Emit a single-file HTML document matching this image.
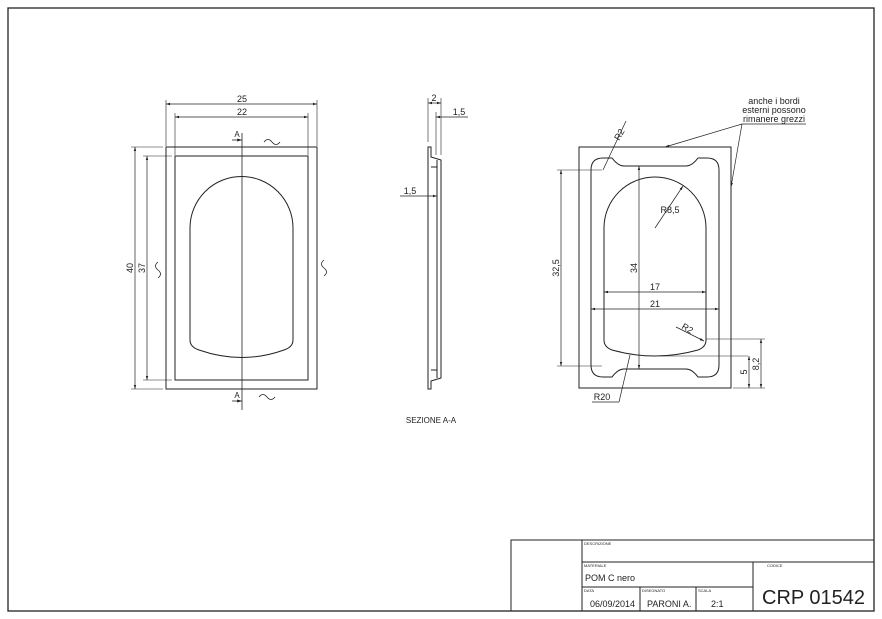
<!DOCTYPE html>
<html><head><meta charset="utf-8"><style>
body{margin:0;background:#fff}
svg{display:block}
text{font-family:"Liberation Sans",sans-serif;fill:#222}
</style></head><body>
<svg width="882" height="619" viewBox="0 0 882 619" xmlns="http://www.w3.org/2000/svg">
<defs>
<marker id="a" viewBox="0 0 10 10" refX="10" refY="5" markerWidth="6" markerHeight="6" orient="auto-start-reverse"><path d="M0,2L10,5L0,8z" fill="#222"/></marker>
</defs>
<g fill="none" stroke="#222" stroke-width="1">
<rect x="8" y="8" width="866" height="603" stroke-width="1.3"/>
<!-- left view -->
<rect x="166" y="147" width="151" height="242"/>
<rect x="175" y="156" width="133" height="224"/>
<path d="M190,340 L190,228 A51,51 0 0 1 293,228 L293,340 Q293,347 284,350 Q242,365 199,350 Q190,347 190,340 Z"/>
<line x1="242" y1="133" x2="242" y2="410" stroke-width="0.8"/>
<line x1="166" y1="100" x2="166" y2="146" stroke-width="0.6"/>
<line x1="317" y1="100" x2="317" y2="146" stroke-width="0.6"/>
<line x1="166" y1="104" x2="317" y2="104" marker-start="url(#a)" marker-end="url(#a)" stroke-width="0.7"/>
<line x1="175" y1="113" x2="175" y2="155" stroke-width="0.6"/>
<line x1="308" y1="113" x2="308" y2="155" stroke-width="0.6"/>
<line x1="175" y1="117" x2="308" y2="117" marker-start="url(#a)" marker-end="url(#a)" stroke-width="0.7"/>
<line x1="131" y1="147" x2="163" y2="147" stroke-width="0.6"/>
<line x1="131" y1="389" x2="163" y2="389" stroke-width="0.6"/>
<line x1="135" y1="147" x2="135" y2="389" marker-start="url(#a)" marker-end="url(#a)" stroke-width="0.7"/>
<line x1="143" y1="156" x2="172" y2="156" stroke-width="0.6"/>
<line x1="143" y1="380" x2="172" y2="380" stroke-width="0.6"/>
<line x1="147" y1="156" x2="147" y2="380" marker-start="url(#a)" marker-end="url(#a)" stroke-width="0.7"/>
<line x1="232" y1="140" x2="242" y2="140" marker-end="url(#a)" stroke-width="0.8"/>
<line x1="232" y1="401" x2="242" y2="401" marker-end="url(#a)" stroke-width="0.8"/>
<path d="M264,142 q4,-5 8,0 q4,5 8,0" stroke-width="0.8"/>
<path d="M259,397 q4,-5 8,0 q4,5 8,0" stroke-width="0.8"/>
<path d="M158,262 q-5,4 0,8 q5,4 0,8" stroke-width="0.8"/>
<path d="M324,260 q-5,4 0,8 q5,4 0,8" stroke-width="0.8"/>
<!-- section -->
<path d="M428,147 L431,147 L431,157 L441,160 L441,378 L431,381 L431,389 L428,389 Z"/>
<line x1="431" y1="167" x2="437" y2="167"/>
<line x1="431" y1="370" x2="437" y2="370"/>
<line x1="437" y1="160" x2="437" y2="378"/>
<line x1="428" y1="98" x2="428" y2="142" stroke-width="0.6"/>
<line x1="441" y1="98" x2="441" y2="155" stroke-width="0.6"/>
<line x1="428" y1="103" x2="441" y2="103" marker-start="url(#a)" marker-end="url(#a)" stroke-width="0.7"/>
<line x1="436" y1="112" x2="436" y2="155" stroke-width="0.6"/>
<line x1="436" y1="117" x2="468" y2="117" marker-start="url(#a)" stroke-width="0.7"/>
<line x1="400" y1="196" x2="437" y2="196" marker-end="url(#a)" stroke-width="0.7"/>
<!-- right view -->
<rect x="579" y="147" width="152" height="241"/>
<path d="M603,158 L612,158 Q618,166 624,166 L686,166 Q692,166 698,158 L707,158 Q719,158 719,170 L719,365 Q719,377 707,377 L698,377 Q692,369 686,369 L624,369 Q618,369 612,377 L603,377 Q591,377 591,365 L591,170 Q591,158 603,158 Z"/>
<path d="M604,340 L604,228 A51,51 0 0 1 706,228 L706,340 Q706,347 698,350 Q655,362 612,350 Q604,347 604,340 Z"/>
<line x1="557" y1="170" x2="602" y2="170" stroke-width="0.6"/>
<line x1="557" y1="366" x2="602" y2="366" stroke-width="0.6"/>
<line x1="561" y1="170" x2="561" y2="366" marker-start="url(#a)" marker-end="url(#a)" stroke-width="0.7"/>
<line x1="639" y1="166" x2="639" y2="369" marker-start="url(#a)" marker-end="url(#a)" stroke-width="0.7"/>
<line x1="604" y1="292" x2="706" y2="292" marker-start="url(#a)" marker-end="url(#a)" stroke-width="0.7"/>
<line x1="591" y1="309" x2="719" y2="309" marker-start="url(#a)" marker-end="url(#a)" stroke-width="0.7"/>
<line x1="655" y1="228" x2="683" y2="186" marker-end="url(#a)" stroke-width="0.7"/>
<line x1="626" y1="121" x2="603" y2="170" stroke-width="0.7"/>
<line x1="676" y1="327" x2="704" y2="341" marker-end="url(#a)" stroke-width="0.7"/>
<line x1="630" y1="355" x2="619" y2="402" stroke-width="0.7"/>
<line x1="592" y1="402" x2="619" y2="402" stroke-width="0.7"/>
<line x1="706" y1="339" x2="765" y2="339" stroke-width="0.6"/>
<line x1="660" y1="356" x2="748" y2="356" stroke-width="0.6"/>
<line x1="733" y1="388" x2="765" y2="388" stroke-width="0.6"/>
<line x1="761" y1="339" x2="761" y2="388" marker-start="url(#a)" marker-end="url(#a)" stroke-width="0.7"/>
<line x1="749" y1="356" x2="749" y2="388" marker-start="url(#a)" marker-end="url(#a)" stroke-width="0.7"/>
<line x1="742" y1="124" x2="806" y2="124" stroke-width="0.7"/>
<line x1="742" y1="124" x2="665" y2="147" marker-end="url(#a)" stroke-width="0.7"/>
<line x1="742" y1="124" x2="731" y2="187" marker-end="url(#a)" stroke-width="0.7"/>
<!-- title block -->
<rect x="511" y="540" width="363" height="71"/>
<line x1="582" y1="540" x2="582" y2="611"/>
<line x1="582" y1="562" x2="874" y2="562"/>
<line x1="582" y1="587" x2="753" y2="587"/>
<line x1="753" y1="562" x2="753" y2="611"/>
<line x1="640" y1="587" x2="640" y2="611"/>
<line x1="696" y1="587" x2="696" y2="611"/>
</g>
<g font-size="9">
<text x="242" y="102" text-anchor="middle">25</text>
<text x="242" y="115" text-anchor="middle">22</text>
<text x="133" y="268" text-anchor="middle" transform="rotate(-90 133 268)">40</text>
<text x="145" y="268" text-anchor="middle" transform="rotate(-90 145 268)">37</text>
<text x="237" y="137" font-size="8" text-anchor="middle">A</text>
<text x="237" y="398" font-size="8" text-anchor="middle">A</text>
<text x="434" y="101" text-anchor="middle">2</text>
<text x="459" y="115" text-anchor="middle">1,5</text>
<text x="410" y="194" text-anchor="middle">1,5</text>
<text x="431" y="423" font-size="8" text-anchor="middle">SEZIONE A-A</text>
<text x="559" y="268" text-anchor="middle" transform="rotate(-90 559 268)">32,5</text>
<text x="637" y="268" text-anchor="middle" transform="rotate(-90 637 268)">34</text>
<text x="655" y="290" text-anchor="middle">17</text>
<text x="655" y="307" text-anchor="middle">21</text>
<text x="670" y="213" text-anchor="middle">R8,5</text>
<text x="622" y="136" text-anchor="middle" transform="rotate(-60 622 136)">R2</text>
<text x="686" y="331" text-anchor="middle" transform="rotate(30 686 331)">R2</text>
<text x="602" y="400" text-anchor="middle">R20</text>
<text x="759" y="364" text-anchor="middle" transform="rotate(-90 759 364)">8,2</text>
<text x="747" y="372" text-anchor="middle" transform="rotate(-90 747 372)">5</text>
<text x="774" y="104" text-anchor="middle">anche i bordi</text>
<text x="774" y="113" text-anchor="middle">esterni possono</text>
<text x="774" y="122" text-anchor="middle">rimanere grezzi</text>
</g>
<g font-size="4">
<text x="584" y="545">DESCRIZIONE</text>
<text x="584" y="567">MATERIALE</text>
<text x="584" y="592">DATA</text>
<text x="642" y="592">DISEGNATO</text>
<text x="698" y="592">SCALA</text>
<text x="767" y="567">CODICE</text>
</g>
<text x="585" y="581" font-size="9">POM C nero</text>
<text x="590" y="607" font-size="9">06/09/2014</text>
<text x="647" y="607" font-size="9">PARONI A.</text>
<text x="711" y="607" font-size="9">2:1</text>
<text x="762" y="604" font-size="20">CRP 01542</text>
</svg>
</body></html>
